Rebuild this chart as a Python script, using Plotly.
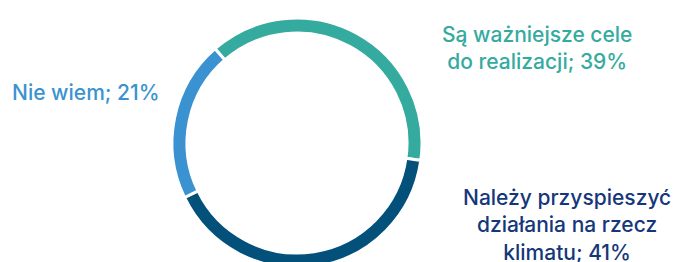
import plotly.graph_objects as go

labels = ["Są ważniejsze cele do realizacji", "Należy przyspieszyć działania na rzecz klimatu", "Nie wiem"]
values = [39, 41, 21]
ring_colors = ["#35ab9f", "#03517a", "#3a93d0"]

ann_texts = ["Są ważniejsze cele<br>do realizacji; 39%", "Należy przyspieszyć<br>działania na rzecz<br>klimatu; 41%", "Nie wiem; 21%"]
text_colors = ["#35ab9f", "#15377a", "#3a93d0"]

W, H = 679, 280
cx, cy, r = 297, 143, 125

fig = go.Figure(go.Pie(
    labels=labels, values=values, hole=0.88, sort=False, direction="clockwise",
    rotation=-41, textinfo="none", hoverinfo="label+percent",
    marker=dict(colors=ring_colors, line=dict(color="white", width=3)),
    domain=dict(x=[(cx - r) / W, (cx + r) / W], y=[(H - cy - r) / H, (H - cy + r) / H]),
    showlegend=False,
))

pos = [(537, 48, "center"), (567, 225, "center"), (10, 93, "left")]
for t, c, (x, y, xa) in zip(ann_texts, text_colors, pos):
    fig.add_annotation(text=t, x=x / W, y=1 - y / H, xref="paper", yref="paper",
                       xanchor=xa, yanchor="middle", showarrow=False, align="center",
                       font=dict(family="Inter", size=21, weight=500, color=c))

fig.update_layout(width=W, height=H, margin=dict(l=0, r=0, t=0, b=0),
                  paper_bgcolor="white", plot_bgcolor="white")
fig.write_html("out.html", config={"displayModeBar": False},
               post_script="document.body.style.margin='0';document.body.style.overflow='hidden';document.documentElement.style.overflow='hidden';")
